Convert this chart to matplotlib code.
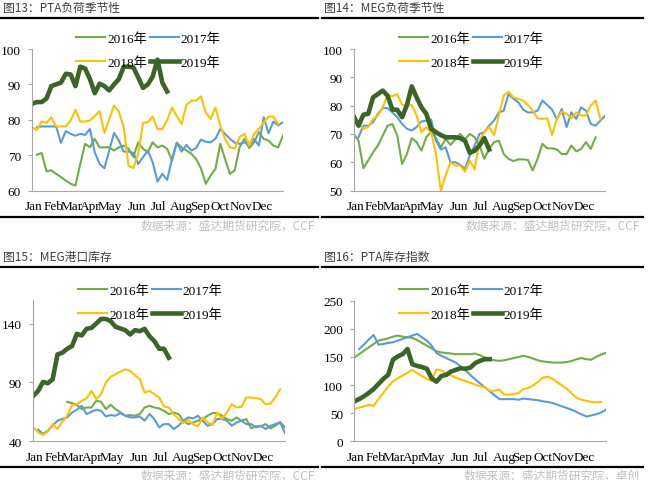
import numpy as np
import matplotlib
matplotlib.use("Agg")
import matplotlib.pyplot as plt
from matplotlib.lines import Line2D

# ==================== 1. Data (weekly values) ====================

months = ["Jan", "Feb", "Mar", "Apr", "May", "Jun", "Jul", "Aug", "Sep", "Oct", "Nov", "Dec"]
years = ["2016年", "2017年", "2018年", "2019年"]

# 图13 PTA load (%), first week index of each series
pta_load_2016_start = 1
pta_load_2016 = [70.1, 70.6, 65.4, 65.7, 64.7, 63.8, 62.8, 61.9, 61.4, 67.5,
                 73.2, 72.2, 74.6, 72.2, 72.2, 72.2, 71.3, 72.2, 72.7, 71.8,
                 69.5, 73.6, 71.8, 70.8, 73.6, 72.2, 72.7, 71.8, 68.5, 73.5,
                 72.2, 71.3, 70.4, 68.9, 66.3, 61.9, 64.2, 66.1, 73.2, 68.9,
                 64.7, 65.7, 72.2, 74.6, 72.0, 73.6, 76.5, 74.6, 74.1, 72.7,
                 72.2, 75.5]
pta_load_2017_start = 1
pta_load_2017 = [77.9, 78.1, 78.1, 78.1, 78.1, 73.5, 76.8, 76.0, 75.5, 76.0,
                 75.7, 77.4, 70.8, 67.5, 66.3, 71.3, 76.3, 74.1, 71.0, 71.0,
                 70.6, 67.5, 69.4, 71.3, 68.0, 62.5, 64.7, 63.0, 68.9, 73.5,
                 71.0, 72.9, 71.3, 72.0, 74.4, 73.8, 73.6, 74.6, 77.4, 76.0,
                 74.6, 73.5, 73.2, 73.6, 72.7, 74.6, 72.7, 80.7, 76.2, 79.5,
                 78.4, 79.3]
pta_load_2018_start = 0
pta_load_2018 = [77.9, 77.1, 79.5, 79.1, 80.7, 78.1, 78.1, 78.1, 79.8, 82.8,
                 79.5, 79.5, 79.8, 81.0, 82.4, 76.3, 80.2, 84.0, 82.3, 77.9,
                 67.0, 66.3, 70.4, 79.1, 79.3, 80.9, 77.4, 77.4, 79.8, 83.5,
                 81.0, 78.8, 84.2, 85.4, 85.4, 86.6, 82.1, 80.2, 83.5, 78.4,
                 74.6, 72.2, 71.9, 75.1, 76.0, 72.7, 76.0, 77.4, 79.3, 80.9,
                 80.9, 78.8]
pta_load_2019_start = 0
pta_load_2019 = [84.5, 85.0, 85.0, 86.0, 89.5, 90.0, 90.5, 93.0, 92.8, 89.5,
                 95.0, 94.5, 91.5, 87.5, 90.2, 89.5, 88.3, 90.0, 91.5, 95.0,
                 95.0, 94.8, 92.0, 89.0, 90.0, 92.2, 97.0, 90.5, 88.0]

# 图14 MEG load (%)
meg_load_2016_start = 0
meg_load_2016 = [70.0, 67.6, 57.9, 60.6, 63.5, 65.9, 69.4, 72.9, 73.5, 69.4,
                 59.4, 62.9, 68.5, 67.1, 64.1, 68.8, 70.8, 68.5, 65.3, 68.2,
                 66.1, 68.0, 70.0, 68.2, 70.0, 68.8, 65.9, 61.2, 64.7, 67.1,
                 67.6, 62.9, 61.2, 60.4, 61.0, 61.0, 60.8, 57.1, 61.2, 66.5,
                 64.9, 64.9, 64.5, 62.9, 62.9, 65.9, 63.8, 64.7, 67.1, 64.7,
                 68.8]
meg_load_2017_start = 1
meg_load_2017 = [68.8, 72.9, 72.9, 74.1, 77.1, 79.1, 79.1, 77.6, 75.9, 73.5,
                 71.8, 71.2, 72.4, 74.4, 74.7, 75.1, 67.6, 64.5, 65.3, 60.0,
                 60.0, 59.1, 57.6, 62.4, 65.9, 70.0, 70.6, 72.9, 74.7, 77.6,
                 78.2, 84.1, 82.4, 81.2, 78.6, 77.6, 77.6, 78.2, 81.8, 80.2,
                 78.6, 75.1, 78.8, 72.4, 77.6, 75.3, 79.4, 78.2, 73.5, 72.9,
                 74.7, 76.5]
meg_load_2018_start = 0
meg_load_2018 = [75.1, 73.5, 71.8, 72.4, 75.3, 76.5, 79.4, 83.8, 83.3, 84.1,
                 80.2, 80.2, 80.2, 76.5, 70.6, 72.4, 70.6, 62.9, 50.0, 55.3,
                 60.0, 58.8, 58.8, 56.7, 60.6, 57.4, 67.6, 70.6, 72.4, 69.6,
                 76.5, 83.5, 84.9, 82.9, 82.4, 81.8, 80.2, 78.2, 75.5, 75.3,
                 75.5, 69.6, 75.3, 77.9, 77.1, 75.5, 77.6, 76.5, 76.5, 80.0,
                 81.8, 75.1]
meg_load_2019_start = 0
meg_load_2019 = [76.2, 72.9, 76.8, 77.1, 82.9, 84.1, 85.3, 83.5, 78.6, 78.5,
                 75.9, 80.2, 86.8, 82.9, 79.4, 77.1, 71.8, 70.6, 69.6, 68.8,
                 68.8, 68.8, 68.5, 67.6, 63.3, 64.1, 65.9, 68.5, 64.5]

# 图15 MEG port inventory
meg_stock_2016_start = 7
meg_stock_2016 = [73.5, 72.4, 70.7, 67.3, 68.7, 68.7, 74.4, 73.5, 67.3, 71.0,
                  67.3, 64.5, 61.7, 62.3, 61.7, 63.1, 68.7, 70.1, 68.7, 67.9,
                  65.9, 63.1, 64.5, 63.1, 57.5, 54.6, 55.9, 57.5, 58.9, 61.7,
                  64.0, 64.0, 61.7, 58.9, 57.5, 60.3, 57.5, 58.9, 51.0, 52.7,
                  52.7, 54.6, 51.0, 53.2, 56.1, 51.8]
meg_stock_2017_start = 1
meg_stock_2017 = [49.9, 46.2, 49.0, 53.2, 57.5, 58.9, 60.3, 64.5, 66.8, 70.1,
                  63.1, 65.1, 66.8, 65.9, 61.1, 62.3, 61.7, 64.0, 61.7, 60.3,
                  60.3, 61.1, 57.5, 63.1, 58.9, 51.8, 54.6, 54.6, 50.4, 53.2,
                  57.5, 60.3, 59.4, 61.7, 57.5, 53.2, 54.6, 58.9, 58.9, 57.5,
                  53.2, 55.9, 57.5, 54.6, 54.6, 51.8, 53.2, 50.4, 53.2, 54.6,
                  56.1, 47.0]
meg_stock_2018_start = 0
meg_stock_2018 = [51.8, 47.6, 45.4, 48.2, 54.6, 50.4, 56.6, 61.7, 70.7, 71.5,
                  74.4, 76.3, 82.8, 75.8, 80.0, 89.9, 94.9, 96.9, 99.2, 101.1,
                  99.7, 96.1, 92.7, 81.4, 82.8, 80.0, 77.2, 69.6, 68.7, 63.1,
                  58.9, 55.5, 58.0, 54.6, 52.7, 60.3, 56.1, 53.8, 64.5, 58.9,
                  64.5, 71.5, 68.7, 69.3, 77.2, 77.2, 76.6, 75.8, 71.5, 72.1,
                  77.2, 84.2]
meg_stock_2019_start = 0
meg_stock_2019 = [78.6, 82.8, 90.4, 89.3, 92.7, 113.8, 115.2, 118.6, 120.8, 131.3,
                  129.9, 135.5, 136.3, 140.0, 143.9, 143.9, 142.0, 137.2, 135.8, 134.4,
                  130.7, 134.4, 133.5, 135.5, 129.3, 125.1, 118.6, 118.6, 111.0]

# 图16 PTA inventory index
pta_stock_2016_start = 0
pta_stock_2016 = [149, 155, 161, 167, 173, 179, 181, 183, 186, 188,
                  186, 185, 184, 180, 175, 170, 165, 160, 158, 157,
                  156, 155, 155, 155, 155, 156, 153, 149, 146, 144,
                  143, 144, 146, 148, 150, 152, 150, 147, 144, 142,
                  141, 140, 140, 140, 141, 143, 146, 148, 146, 145,
                  150, 154, 157]
pta_stock_2017_start = 1
pta_stock_2017 = [164, 172, 181, 189, 172, 173, 175, 176, 179, 182,
                  185, 188, 191, 185, 179, 170, 157, 152, 148, 144,
                  140, 133, 126, 118, 110, 103, 96, 89, 82, 75,
                  75, 75, 75, 74, 76, 75, 74, 73, 71, 70,
                  68, 65, 62, 59, 56, 52, 48, 44, 46, 48,
                  51, 56]
pta_stock_2018_start = 0
pta_stock_2018 = [57, 60, 62, 65, 63, 75, 86, 97, 107, 112,
                  117, 122, 127, 121, 116, 111, 107, 128, 126, 121,
                  117, 113, 110, 107, 104, 101, 98, 96, 90, 90,
                  92, 83, 83, 84, 86, 93, 95, 99, 106, 113,
                  115, 111, 105, 99, 93, 85, 77, 74, 72, 70,
                  69, 70]
pta_stock_2019_start = 0
pta_stock_2019 = [71, 75, 80, 86, 93, 102, 111, 118, 145, 151,
                  155, 164, 137, 134, 132, 129, 112, 106, 116, 118,
                  124, 127, 130, 129, 131, 139, 143, 146, 146]


# ==================== 2. Style ====================

W, H = 654, 481
SERIF = ["Liberation Serif", "Noto Sans CJK SC"]
CJK = ["Noto Sans CJK SC", "DejaVu Sans"]

year_colors = ["#70AD47", "#5B9BD5", "#FFC000", "#3B6527"]
year_widths = [1.5, 1.5, 1.5, 3.3]
axis_gray = "#A6A6A6"

month_pos = [0.3, 4.4, 8.2, 12.1, 16.2, 21.8, 26.2, 31.0, 34.8, 39.0, 43.2, 47.6]

fig = plt.figure(figsize=(W / 100, H / 100), dpi=100)


def px_axes(left, right, top, bottom):
    return fig.add_axes([left / W, 1 - bottom / H, (right - left) / W, (bottom - top) / H])


def draw_panel(box, series, ylim, yticks, legend_xy):
    ax = px_axes(*box)
    handles = []
    for (start, values), color, lw in zip(series, year_colors, year_widths):
        x = np.arange(start, start + len(values))
        h, = ax.plot(x, values, color=color, linewidth=lw, solid_joinstyle="round")
        handles.append(h)

    ax.set_xlim(0, 52)
    ax.set_ylim(*ylim)
    ax.set_yticks(yticks)
    ax.set_xticks(month_pos)
    ax.set_xticklabels(months)

    for side in ["top", "right"]:
        ax.spines[side].set_visible(False)
    for side in ["left", "bottom"]:
        ax.spines[side].set_color(axis_gray)
        ax.spines[side].set_linewidth(0.8)

    ax.tick_params(axis="x", length=0, pad=7)
    ax.tick_params(axis="y", length=3, width=0.8, color=axis_gray, pad=5)
    for lab in ax.get_xticklabels() + ax.get_yticklabels():
        lab.set_family(SERIF)
        lab.set_fontsize(9.5)
        lab.set_color("black")

    # legend: row 1 = 2016, 2017 ; row 2 = 2018, 2019
    order = [0, 2, 1, 3]
    ax.legend(
        [handles[i] for i in order],
        [years[i] for i in order],
        ncol=2,
        loc="upper left",
        bbox_to_anchor=(legend_xy[0] / W, 1 - legend_xy[1] / H),
        bbox_transform=fig.transFigure,
        frameon=False,
        borderpad=0,
        borderaxespad=0,
        handlelength=2.2,
        handletextpad=0.15,
        columnspacing=0.2,
        labelspacing=0.9,
        prop={"family": SERIF, "size": 9.5},
    )
    return ax


def draw_frame(x0, x1, y_title, y_top, y_bottom, title, source, title_x):
    fig.text(title_x / W, 1 - y_title / H, title, family=CJK, fontsize=8.5,
             color="#404040", va="center", ha="left")
    for y in (y_top, y_bottom):
        fig.add_artist(Line2D([x0 / W, x1 / W], [1 - y / H, 1 - y / H],
                              color="black", linewidth=1.6))
    fig.text((x1 - 3) / W, 1 - (y_bottom + 8) / H, source, family=CJK, fontsize=8.5,
             color="#BFBFBF", va="center", ha="right", style="italic")


# ==================== 3. Panels ====================

draw_panel(
    (32, 283, 50, 191.5),
    [(pta_load_2016_start, pta_load_2016), (pta_load_2017_start, pta_load_2017),
     (pta_load_2018_start, pta_load_2018), (pta_load_2019_start, pta_load_2019)],
    (60, 100), [60, 70, 80, 90, 100], (76, 33),
)
draw_panel(
    (353.7, 605.3, 50, 191.5),
    [(meg_load_2016_start, meg_load_2016), (meg_load_2017_start, meg_load_2017),
     (meg_load_2018_start, meg_load_2018), (meg_load_2019_start, meg_load_2019)],
    (50, 100), [50, 60, 70, 80, 90, 100], (399, 33),
)
draw_panel(
    (33.3, 285, 301, 442.3),
    [(meg_stock_2016_start, meg_stock_2016), (meg_stock_2017_start, meg_stock_2017),
     (meg_stock_2018_start, meg_stock_2018), (meg_stock_2019_start, meg_stock_2019)],
    (40, 160), [40, 90, 140], (78, 285),
)
draw_panel(
    (354.3, 605.7, 301.7, 442.3),
    [(pta_stock_2016_start, pta_stock_2016), (pta_stock_2017_start, pta_stock_2017),
     (pta_stock_2018_start, pta_stock_2018), (pta_stock_2019_start, pta_stock_2019)],
    (0, 250), [0, 50, 100, 150, 200, 250], (399, 285),
)

draw_frame(0, 318, 8, 19, 218, "图13：PTA负荷季节性", "数据来源：盛达期货研究院，CCF", 3)
draw_frame(322, 643, 8, 19, 218, "图14：MEG负荷季节性", "数据来源：盛达期货研究院，CCF", 324)
draw_frame(0, 318, 257, 268, 468, "图15：MEG港口库存", "数据来源：盛达期货研究院，CCF", 3)
draw_frame(322, 643, 257, 268, 468, "图16：PTA库存指数", "数据来源：盛达期货研究院，卓创", 324)

fig.savefig("out.png", dpi=100)
